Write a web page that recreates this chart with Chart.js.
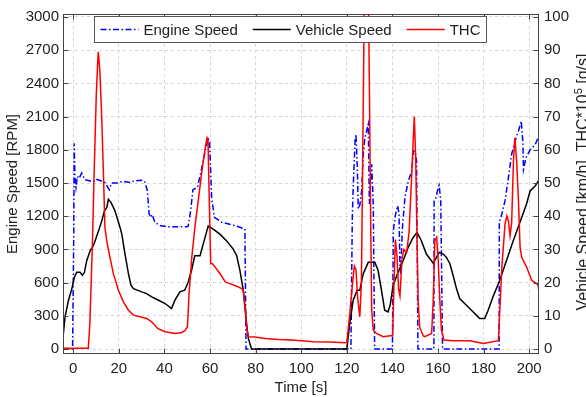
<!DOCTYPE html>
<html><head><meta charset="utf-8">
<script src="https://cdn.jsdelivr.net/npm/chart.js@4.4.1/dist/chart.umd.min.js"></script>
<style>html,body{margin:0;padding:0;background:#fff;}canvas{display:block;}</style>
</head><body>
<canvas id="c" width="586" height="397"></canvas>
<script>
const FONT = "'Liberation Sans', Arial, sans-serif";

const xTicks = [0, 20, 40, 60, 80, 100, 120, 140, 160, 180, 200];
const yLeftTicks = [0, 300, 600, 900, 1200, 1500, 1800, 2100, 2400, 2700, 3000];
const yRightTicks = [0, 10, 20, 30, 40, 50, 60, 70, 80, 90, 100];

const engineTime = [-4.5, -0.3, 0.2, 0.4, 0.75, 1.2, 1.8, 2.5, 3.7, 5.1, 7, 8.8, 10, 12, 13.9, 15.8, 16.8, 19, 21.9, 24.9, 27, 30, 31.4, 32.5, 33.3, 33.9, 34.6, 35.8, 38, 41, 46.8, 49.8, 50.4, 51.5, 52.5, 54.5, 56, 58, 59.2, 59.8, 60.7, 61.9, 65.1, 70.9, 75.3, 75.8, 121.8, 122.4, 122.8, 123.6, 124.0, 124.6, 125.0, 125.7, 126.5, 127.2, 127.9, 129.4, 129.9, 130.9, 131.3, 131.6, 132.2, 140.0, 140.4, 141.4, 142.3, 142.9, 143.3, 143.7, 144.3, 145.5, 147, 148.5, 149.2, 149.9, 150.6, 151.2, 158.2, 158.3, 159.0, 160.1, 160.5, 161.2, 162.0, 186.8, 186.9, 188, 189.4, 190.9, 192.3, 193.8, 195.3, 196.5, 197.2, 197.5, 198.6, 200.4, 202.6, 204.5];
const engineRpm = [0, 0, 1000, 1860, 1550, 1460, 1560, 1540, 1590, 1530, 1520, 1510, 1535, 1520, 1505, 1440, 1500, 1500, 1515, 1505, 1520, 1525, 1510, 1430, 1220, 1190, 1215, 1145, 1115, 1105, 1105, 1105, 1110, 1250, 1440, 1460, 1600, 1800, 1905, 1870, 1370, 1190, 1145, 1115, 1085, 0, 0, 1190, 1460, 1880, 1940, 1640, 1265, 1300, 1430, 1760, 1905, 2030, 1310, 1670, 1480, 1300, 0, 0, 1070, 1220, 1295, 1220, 740, 680, 1070, 1370, 1520, 1610, 1790, 1790, 1700, 0, 0, 1340, 1360, 1460, 1480, 1340, 0, 0, 1145, 1220, 1340, 1550, 1760, 1880, 1970, 2060, 1880, 1625, 1730, 1800, 1845, 1940];

const vehicleTime = [-4.5, -3.6, -2.1, -0.6, 0.5, 1.5, 3, 4, 4.9, 5.9, 7.4, 8.8, 9.6, 11.1, 12.5, 13.7, 14.7, 15.4, 16.6, 18.3, 20.1, 21.3, 22.7, 24.2, 25.3, 26.4, 30, 32.2, 34.4, 37.4, 40.3, 43.1, 44.6, 46.8, 48.9, 50.4, 51.9, 53.3, 55.6, 57, 59.2, 61.4, 64.3, 67.2, 70.2, 71.7, 73.1, 74.6, 76, 76.8, 78.2, 120, 121.3, 122.8, 124.5, 125.7, 127.2, 129.4, 132.3, 133.7, 135.2, 136.6, 138.1, 139.1, 140.3, 142.5, 144.7, 146.9, 149.1, 150.8, 152.7, 154.9, 157.1, 157.9, 159.3, 160.5, 162.3, 163.7, 165.2, 166.6, 168.1, 169.5, 171.7, 173.9, 176.8, 178.3, 180.5, 182, 184.1, 187.1, 190, 193, 195.9, 198.8, 200.4, 202.6, 204.5];
const vehicleSpeed = [3.5, 9.7, 14.7, 18.2, 21.6, 23.1, 23.1, 22.2, 23.1, 26.6, 29.6, 31.1, 32.6, 35.6, 38.6, 41.6, 42.6, 45.1, 44.1, 41.6, 37.6, 34.6, 28.6, 22.7, 19.2, 18.2, 17.2, 16.7, 15.7, 14.7, 13.7, 12.2, 14.7, 17.2, 17.7, 20.1, 23.7, 28.1, 28.1, 31.6, 37.1, 36.1, 34.6, 32.6, 30.1, 28.1, 23.7, 17.7, 7.7, 3.2, 0, 0, 7.7, 14.7, 17.7, 17.7, 22.7, 26.1, 26.1, 23.7, 17.7, 11.7, 11.2, 13.5, 19.2, 23.1, 26.6, 30.6, 33.6, 35.1, 32.6, 28.6, 26.6, 25.8, 27.6, 29.1, 28.6, 27.6, 25.7, 22.2, 18.2, 15.2, 13.7, 12.2, 10.2, 9.2, 9.2, 11.7, 15.7, 20.7, 26.6, 32.6, 38.1, 43.6, 47.6, 49.1, 51.1];

const thcTime = [-4.5, 6.6, 7.3, 8.4, 9.1, 10.1, 10.8, 11.0, 11.7, 12.5, 13.2, 13.9, 14.7, 16.1, 17.6, 19.8, 22, 24.2, 26.4, 29.2, 32.2, 34.4, 37, 40.3, 44.7, 47.6, 49, 50.1, 50.8, 52, 53.5, 55, 56.4, 57.9, 58.7, 59.1, 59.7, 60.3, 61.1, 62.3, 64.5, 66.7, 68.7, 71.7, 73.9, 74.6, 75.5, 76.2, 76.9, 79.8, 84.2, 90, 95.9, 100, 105.2, 112.5, 119.1, 120, 121.3, 122.5, 123.3, 124, 124.8, 125.7, 126.4, 127, 127.6, 128.6, 129.6, 130.3, 130.9, 131.6, 133, 136, 138.9, 140.1, 140.7, 141.3, 142, 142.7, 143.3, 144.2, 145, 146.2, 147.3, 148.3, 149.6, 150.2, 150.8, 151.3, 152, 153.5, 154.2, 157.2, 157.9, 158.6, 159.4, 160.1, 160.8, 161.5, 162.6, 166.7, 174, 179.9, 186.5, 186.9, 188, 189.4, 190.2, 190.9, 191.6, 192.3, 193.1, 193.7, 194.5, 195.3, 196, 196.7, 198.9, 201.1, 203.3, 204, 204.5];
const thcValue = [0.2, 0.2, 8, 31.6, 51.6, 76.6, 87.5, 89.5, 83.5, 69.5, 53.6, 36.6, 32.6, 27.6, 22.7, 17.7, 14.2, 11.7, 10.2, 9.7, 9.2, 8.2, 6.2, 5.2, 4.7, 5, 5.5, 6.7, 16.7, 27.6, 37.6, 45.6, 53.6, 60.6, 63.6, 63, 43.6, 25.7, 25.7, 24.6, 22.6, 20.2, 19.7, 18.9, 18.2, 17.5, 11.7, 5.7, 3.7, 3.6, 3.2, 2.9, 2.7, 2.5, 2.2, 2.1, 1.9, 2, 10.7, 19.7, 25, 24, 15, 9.7, 20, 60, 100, 135, 100, 50, 12, 5.7, 4.7, 3.7, 4, 4, 20, 33, 28, 18, 16, 27, 30, 29, 35, 50, 70, 58, 33, 14, 6.5, 4, 3.7, 4.7, 14.7, 32.6, 33.6, 26.6, 14.7, 5.7, 2.7, 2.5, 2.5, 1.7, 2.5, 8.7, 24.6, 37.6, 40.1, 38.5, 34.1, 38, 56.6, 63.6, 56.6, 44.6, 30.6, 27.6, 24.6, 20.7, 19.7, 19, 15];

const seriesNames = ['Engine Speed', 'Vehicle Speed', 'THC'];

const toPts = (xs, ys) => xs.map((x, i) => ({x: x, y: ys[i]}));

const decor = {
  id: 'decor',
  afterDraw(chart) {
    const ctx = chart.ctx;
    const a = chart.chartArea;
    const sx = chart.scales.x, sy = chart.scales.y, sy2 = chart.scales.y2;
    const L = Math.round(a.left) + 0.5, R = Math.round(a.right) - 0.5;
    const T = Math.round(a.top) + 0.5, B = Math.round(a.bottom) - 0.5;
    ctx.save();
    ctx.strokeStyle = '#444';
    ctx.lineWidth = 1;
    ctx.setLineDash([]);
    ctx.strokeRect(L, T, R - L, B - T);
    const tl = 5;
    ctx.beginPath();
    xTicks.forEach(v => {
      const p = Math.round(sx.getPixelForValue(v)) + 0.5;
      ctx.moveTo(p, B); ctx.lineTo(p, B - tl);
      ctx.moveTo(p, T); ctx.lineTo(p, T + tl);
    });
    yLeftTicks.forEach(v => {
      const p = Math.round(sy.getPixelForValue(v)) + 0.5;
      ctx.moveTo(L, p); ctx.lineTo(L + tl, p);
    });
    yRightTicks.forEach(v => {
      const p = Math.round(sy2.getPixelForValue(v)) + 0.5;
      ctx.moveTo(R, p); ctx.lineTo(R - tl, p);
    });
    ctx.stroke();

    // legend
    const ds = chart.data.datasets;
    ctx.font = '15px ' + FONT;
    const sample = 38, gapT = 5, gapI = 15;
    let total = 0;
    ds.forEach((d, i) => { total += sample + gapT + ctx.measureText(d.label).width + (i < ds.length - 1 ? gapI : 0); });
    const bx = 94.5, by = 16.5, bh = 26, padL = 6;
    const bw = total + padL * 2;
    ctx.fillStyle = '#fff';
    ctx.fillRect(bx, by, bw, bh);
    ctx.strokeStyle = '#555';
    ctx.lineWidth = 1;
    ctx.strokeRect(bx, by, bw, bh);
    let cx = bx + padL;
    const cy = by + bh / 2;
    ds.forEach((d, i) => {
      ctx.beginPath();
      ctx.strokeStyle = d.borderColor;
      ctx.lineWidth = d.borderWidth;
      ctx.setLineDash(d.borderDash || []);
      ctx.moveTo(cx, cy); ctx.lineTo(cx + sample, cy);
      ctx.stroke();
      ctx.setLineDash([]);
      cx += sample + gapT;
      ctx.fillStyle = '#222';
      ctx.textBaseline = 'middle';
      ctx.textAlign = 'left';
      ctx.fillText(d.label, cx, cy + 1);
      cx += ctx.measureText(d.label).width + gapI;
    });

    // right axis title (reads bottom to top)
    const p1 = 'Vehicle Speed [km/h], THC*10', p2 = '5', p3 = ' [g/s]';
    const f1 = '16px ' + FONT, f2 = '11px ' + FONT;
    ctx.font = f1; const w1 = ctx.measureText(p1).width, w3 = ctx.measureText(p3).width;
    ctx.font = f2; const w2 = ctx.measureText(p2).width;
    const tw = w1 + w2 + w3;
    ctx.translate(587.5, (a.top + a.bottom) / 2 - 2);
    ctx.rotate(-Math.PI / 2);
    ctx.fillStyle = '#222';
    ctx.textBaseline = 'alphabetic';
    ctx.textAlign = 'left';
    let px = -tw / 2;
    ctx.font = f1; ctx.fillText(p1, px, 0); px += w1;
    ctx.font = f2; ctx.fillText(p2, px, -6); px += w2;
    ctx.font = f1; ctx.fillText(p3, px, 0);
    ctx.restore();
  }
};

const gridCommon = { color: '#d6d6d6', lineWidth: 1, drawTicks: false };
const borderCommon = { display: false, dash: [3, 3] };
const tickFont = { family: FONT, size: 15 };
const plainLabel = v => String(v);

new Chart(document.getElementById('c'), {
  type: 'line',
  data: {
    datasets: [
      { label: seriesNames[0], data: toPts(engineTime, engineRpm), yAxisID: 'y', borderColor: '#0000ff', borderWidth: 1.5, borderDash: [6, 2.5, 1.5, 2.5], order: 2 },
      { label: seriesNames[1], data: toPts(vehicleTime, vehicleSpeed), yAxisID: 'y2', borderColor: '#000000', borderWidth: 1.5, order: 1 },
      { label: seriesNames[2], data: toPts(thcTime, thcValue), yAxisID: 'y2', borderColor: '#ff0000', borderWidth: 1.5, order: 0 }
    ]
  },
  options: {
    responsive: false,
    animation: false,
    layout: { padding: { top: 12, left: 0, right: 0, bottom: 0 } },
    elements: { point: { radius: 0 }, line: { tension: 0, fill: false } },
    plugins: { legend: { display: false }, tooltip: { enabled: false } },
    scales: {
      x: {
        type: 'linear', min: -4.5, max: 204.3,
        afterBuildTicks: s => { s.ticks = xTicks.map(v => ({ value: v })); },
        afterFit: s => { s.height = 43; },
        grid: gridCommon, border: borderCommon,
        ticks: { font: tickFont, color: '#222', padding: 6, maxRotation: 0, autoSkip: false, callback: plainLabel },
        title: { display: true, text: 'Time [s]', font: { family: FONT, size: 15 }, color: '#222', padding: { top: 0, bottom: 0 } }
      },
      y: {
        type: 'linear', position: 'left', min: -45, max: 3027,
        afterBuildTicks: s => { s.ticks = yLeftTicks.map(v => ({ value: v })); },
        afterFit: s => { s.width = 63; },
        grid: gridCommon, border: borderCommon,
        ticks: { font: tickFont, color: '#222', padding: 4, autoSkip: false, callback: plainLabel },
        title: { display: true, text: 'Engine Speed [RPM]', font: { family: FONT, size: 15 }, color: '#222', padding: { top: 4, bottom: 0 } }
      },
      y2: {
        type: 'linear', position: 'right', min: -1.5, max: 100.9,
        afterBuildTicks: s => { s.ticks = yRightTicks.map(v => ({ value: v })); },
        afterFit: s => { s.width = 47; },
        grid: { drawOnChartArea: false, drawTicks: false }, border: { display: false },
        ticks: { font: tickFont, color: '#222', padding: 5, autoSkip: false, callback: plainLabel }
      }
    }
  },
  plugins: [decor]
});
</script>
</body></html>
